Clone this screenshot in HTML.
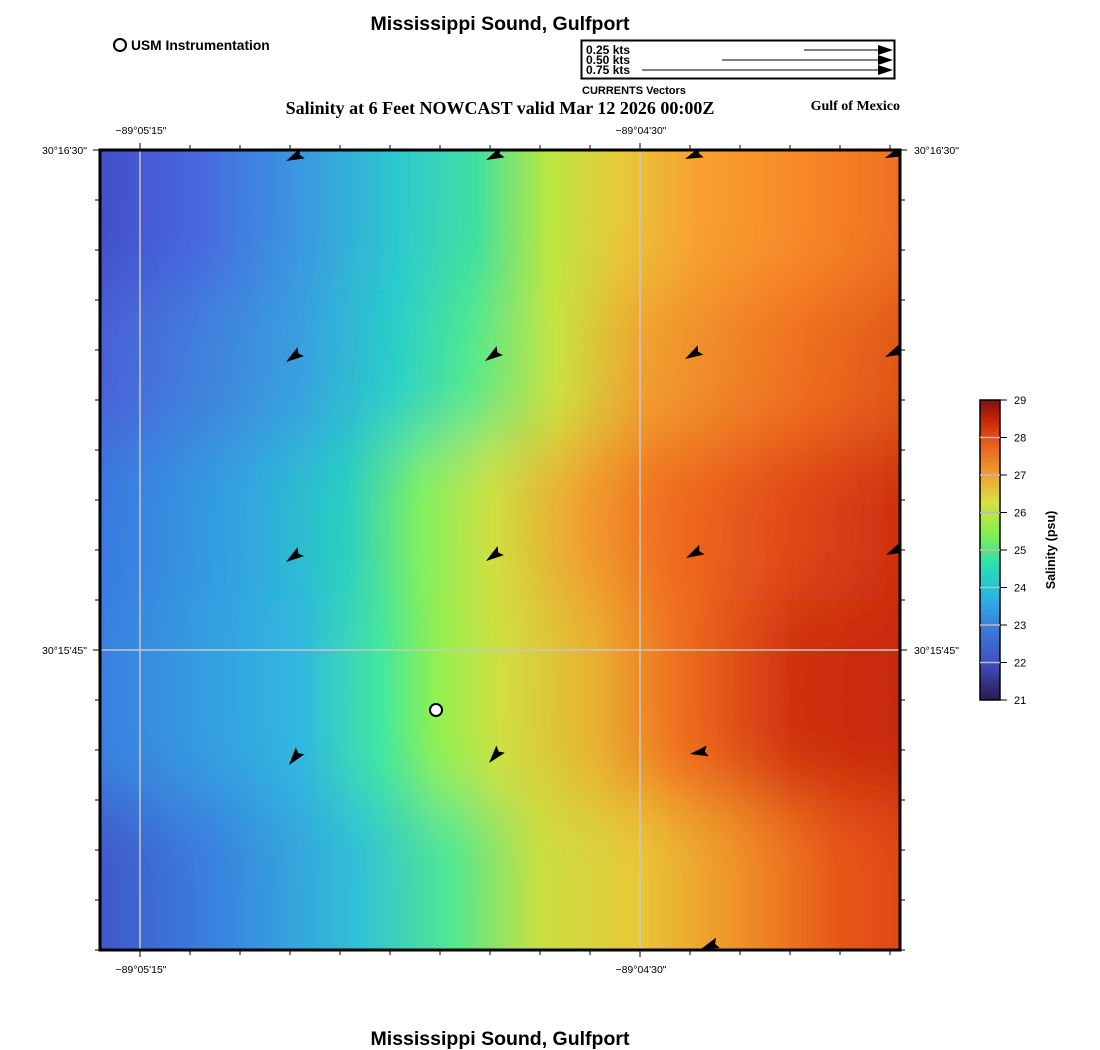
<!DOCTYPE html>
<html><head><meta charset="utf-8"><style>
html,body{margin:0;padding:0;background:#fff;}
svg{display:block;font-family:"Liberation Sans",sans-serif;}
</style></head><body>
<svg width="1100" height="1050" viewBox="0 0 1100 1050" xmlns="http://www.w3.org/2000/svg">
<defs>
<linearGradient id="gA" x1="100" x2="900" y1="0" y2="0" gradientUnits="userSpaceOnUse">
<stop offset="0" stop-color="#4250c8"/><stop offset=".12" stop-color="#4866e0"/><stop offset=".25" stop-color="#3a98e0"/><stop offset=".37" stop-color="#2cc8d0"/><stop offset=".47" stop-color="#40e0a0"/><stop offset=".56" stop-color="#b8e840"/><stop offset=".65" stop-color="#e8c838"/><stop offset=".75" stop-color="#f8a030"/><stop offset=".88" stop-color="#f88828"/><stop offset="1" stop-color="#f07020"/></linearGradient>
<linearGradient id="gB" x1="100" x2="900" y1="0" y2="0" gradientUnits="userSpaceOnUse">
<stop offset="0" stop-color="#4a60d8"/><stop offset=".25" stop-color="#38a0e0"/><stop offset=".37" stop-color="#28d0c8"/><stop offset=".46" stop-color="#50e890"/><stop offset=".57" stop-color="#c8e440"/><stop offset=".68" stop-color="#f0a030"/><stop offset=".87" stop-color="#f07020"/><stop offset="1" stop-color="#e05818"/></linearGradient>
<linearGradient id="gC" x1="100" x2="900" y1="0" y2="0" gradientUnits="userSpaceOnUse">
<stop offset="0" stop-color="#3a78e0"/><stop offset=".19" stop-color="#30a8e0"/><stop offset=".31" stop-color="#2ad0c0"/><stop offset=".40" stop-color="#80f060"/><stop offset=".49" stop-color="#d0e040"/><stop offset=".60" stop-color="#f0a030"/><stop offset=".70" stop-color="#f07020"/><stop offset=".87" stop-color="#e04818"/><stop offset="1" stop-color="#d03010"/></linearGradient>
<linearGradient id="gD" x1="100" x2="900" y1="0" y2="0" gradientUnits="userSpaceOnUse">
<stop offset="0" stop-color="#3a80e0"/><stop offset=".25" stop-color="#30b8e0"/><stop offset=".35" stop-color="#40e8a0"/><stop offset=".42" stop-color="#90f050"/><stop offset=".50" stop-color="#d0e040"/><stop offset=".62" stop-color="#e8b030"/><stop offset=".72" stop-color="#f07020"/><stop offset=".87" stop-color="#d03010"/><stop offset="1" stop-color="#c82808"/></linearGradient>
<linearGradient id="gE" x1="100" x2="900" y1="0" y2="0" gradientUnits="userSpaceOnUse">
<stop offset="0" stop-color="#4058c8"/><stop offset=".14" stop-color="#3a80e0"/><stop offset=".32" stop-color="#30c0d8"/><stop offset=".44" stop-color="#50e890"/><stop offset=".55" stop-color="#c8e040"/><stop offset=".67" stop-color="#e8c838"/><stop offset=".80" stop-color="#f09028"/><stop offset=".92" stop-color="#e85818"/><stop offset="1" stop-color="#e04818"/></linearGradient>
<linearGradient id="cb" x1="0" x2="0" y1="1" y2="0">
<stop offset="0" stop-color="#2a1a50"/><stop offset=".125" stop-color="#4050c0"/><stop offset=".25" stop-color="#3a80e0"/><stop offset=".35" stop-color="#2ab8e0"/><stop offset=".45" stop-color="#2ae0b0"/><stop offset=".55" stop-color="#80f050"/><stop offset=".66" stop-color="#d8e040"/><stop offset=".75" stop-color="#f0a030"/><stop offset=".85" stop-color="#e86020"/><stop offset=".93" stop-color="#c82808"/><stop offset="1" stop-color="#801010"/></linearGradient>
<filter id="bl" x="0" y="-0.2" width="1" height="1.4"><feGaussianBlur stdDeviation="0 35"/></filter>
<clipPath id="cp"><rect x="100" y="150" width="800" height="800"/></clipPath>
<path id="ar" d="M0 0 L-18 -5.5 L-15 0 L-18 5.5 Z"/>
</defs>
<text x="500" y="30" text-anchor="middle" font-size="19.5" font-weight="bold">Mississippi Sound, Gulfport</text>
<circle cx="120" cy="45" r="6" fill="#fff" stroke="#000" stroke-width="2"/>
<text x="131" y="50" font-size="13.8" font-weight="bold">USM Instrumentation</text>
<rect x="581.5" y="40.5" width="313" height="38" fill="#fff" stroke="#000" stroke-width="2"/>
<g font-size="12" font-weight="bold"><text x="586" y="54">0.25 kts</text><text x="586" y="64">0.50 kts</text><text x="586" y="74">0.75 kts</text></g>
<g stroke="#000" stroke-width="1"><line x1="804" y1="50" x2="880" y2="50"/><line x1="722" y1="60" x2="880" y2="60"/><line x1="642" y1="70" x2="880" y2="70"/></g>
<g fill="#000"><path d="M893 50 L878 45 L878 55Z"/><path d="M893 60 L878 55 L878 65Z"/><path d="M893 70 L878 65 L878 75Z"/></g>
<text x="582" y="94" font-size="11" font-weight="bold">CURRENTS Vectors</text>
<text x="500" y="114" text-anchor="middle" font-size="18" font-weight="bold" font-family="Liberation Serif,serif">Salinity at 6 Feet NOWCAST valid Mar 12 2026 00:00Z</text>
<text x="900" y="110" text-anchor="end" font-size="14" font-weight="bold" font-family="Liberation Serif,serif">Gulf of Mexico</text>
<g clip-path="url(#cp)">
<g filter="url(#bl)">
<rect x="100" y="60" width="800" height="230" fill="url(#gA)"/>
<rect x="100" y="290" width="800" height="150" fill="url(#gB)"/>
<rect x="100" y="440" width="800" height="160" fill="url(#gC)"/>
<rect x="100" y="600" width="800" height="200" fill="url(#gD)"/>
<rect x="100" y="800" width="800" height="240" fill="url(#gE)"/>
</g>
<g stroke="#c8c8c8" stroke-width="1.5"><line x1="140" y1="150" x2="140" y2="950"/><line x1="640" y1="150" x2="640" y2="950"/><line x1="100" y1="650" x2="900" y2="650"/></g>
<g fill="#000">
<use href="#ar" transform="translate(286,161) rotate(155)"/><use href="#ar" transform="translate(486,160) rotate(155)"/><use href="#ar" transform="translate(685,159) rotate(158)"/><use href="#ar" transform="translate(885,158) rotate(158)"/>
<use href="#ar" transform="translate(286,362) rotate(145)"/><use href="#ar" transform="translate(485,361) rotate(145)"/><use href="#ar" transform="translate(685,359) rotate(150)"/><use href="#ar" transform="translate(885,357) rotate(155)"/>
<use href="#ar" transform="translate(286,562) rotate(145)"/><use href="#ar" transform="translate(486,561) rotate(145)"/><use href="#ar" transform="translate(686,558) rotate(152)"/><use href="#ar" transform="translate(886,555) rotate(155)"/>
<use href="#ar" transform="translate(289,765) rotate(128)"/><use href="#ar" transform="translate(489,763) rotate(130)"/><use href="#ar" transform="translate(690,754) rotate(170)"/>
<use href="#ar" transform="translate(701,949) rotate(160)"/>
</g>
</g>
<rect x="100" y="150" width="800" height="800" fill="none" stroke="#000" stroke-width="3"/>
<g stroke="#000" stroke-width="1">
<path d="M140 143V150M190 145V150M240 145V150M290 145V150M340 145V150M390 145V150M440 145V150M490 145V150M540 145V150M590 145V150M640 143V150M690 145V150M740 145V150M790 145V150M840 145V150M890 145V150"/>
<path d="M140 950V957M190 950V955M240 950V955M290 950V955M340 950V955M390 950V955M440 950V955M490 950V955M540 950V955M590 950V955M640 950V957M690 950V955M740 950V955M790 950V955M840 950V955M890 950V955"/>
<path d="M93 150H100M95 200H100M95 250H100M95 300H100M95 350H100M95 400H100M95 450H100M95 500H100M95 550H100M95 600H100M93 650H100M95 700H100M95 750H100M95 800H100M95 850H100M95 900H100M95 950H100"/>
<path d="M900 150H907M900 200H905M900 250H905M900 300H905M900 350H905M900 400H905M900 450H905M900 500H905M900 550H905M900 600H905M900 650H907M900 700H905M900 750H905M900 800H905M900 850H905M900 900H905M900 950H905"/>
</g>
<g font-size="10.5">
<text x="141" y="134" text-anchor="middle">−89°05'15"</text><text x="641" y="134" text-anchor="middle">−89°04'30"</text>
<text x="141" y="973" text-anchor="middle">−89°05'15"</text><text x="641" y="973" text-anchor="middle">−89°04'30"</text>
<text x="87" y="154" text-anchor="end">30°16'30"</text><text x="87" y="654" text-anchor="end">30°15'45"</text>
<text x="914" y="154">30°16'30"</text><text x="914" y="654">30°15'45"</text>
</g>
<circle cx="436" cy="710" r="6" fill="#fff" stroke="#000" stroke-width="2"/>
<rect x="980" y="400" width="20" height="300" fill="url(#cb)" stroke="#000" stroke-width="1.5"/>
<g stroke="#bbb" stroke-width="1.5"><path d="M980 437.5H1000M980 475H1000M980 512.5H1000M980 550H1000M980 587.5H1000M980 625H1000M980 662.5H1000"/></g>
<g stroke="#000"><path d="M1000 400H1007M1000 437.5H1007M1000 475H1007M1000 512.5H1007M1000 550H1007M1000 587.5H1007M1000 625H1007M1000 662.5H1007M1000 700H1007"/></g>
<g font-size="11"><text x="1014" y="404">29</text><text x="1014" y="441.5">28</text><text x="1014" y="479">27</text><text x="1014" y="516.5">26</text><text x="1014" y="554">25</text><text x="1014" y="591.5">24</text><text x="1014" y="629">23</text><text x="1014" y="666.5">22</text><text x="1014" y="704">21</text></g>
<text transform="translate(1055,550) rotate(-90)" text-anchor="middle" font-size="12.5" font-weight="bold">Salinity (psu)</text>
<text x="500" y="1045" text-anchor="middle" font-size="19.5" font-weight="bold">Mississippi Sound, Gulfport</text>
</svg>
</body></html>
